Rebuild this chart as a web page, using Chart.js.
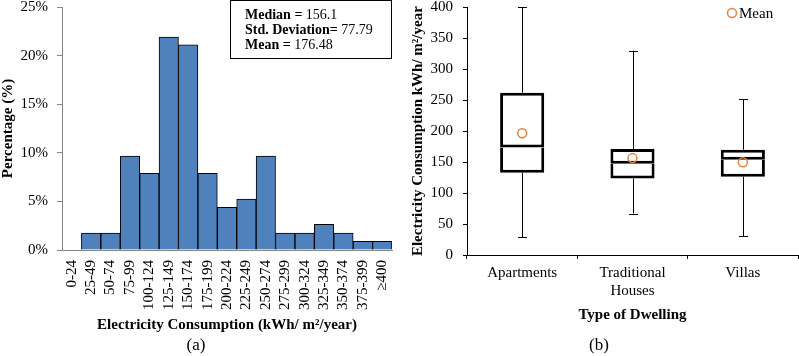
<!DOCTYPE html>
<html><head><meta charset="utf-8">
<script src="https://cdn.jsdelivr.net/npm/chart.js@4.4.0/dist/chart.umd.min.js"></script>
<style>
html,body{margin:0;padding:0;background:#fff;}
#wrap{position:relative;width:799px;height:356px;overflow:hidden;background:#fff;}
canvas{position:absolute;top:0;}
#ca{left:0;} #cb{left:400px;}
</style></head><body>
<div id="wrap"><canvas id="ca" width="400" height="356"></canvas><canvas id="cb" width="399" height="356"></canvas></div>
<script>
// ---- (a) histogram data ----
const histCategories = ['0-24','25-49','50-74','75-99','100-124','125-149','150-174','175-199','200-224','225-249','250-274','275-299','300-324','325-349','350-374','375-399','≥400'];
const histPercent = [0, 1.75, 1.75, 9.65, 7.9, 21.9, 21.1, 7.9, 4.4, 5.25, 9.65, 1.75, 1.75, 2.65, 1.75, 0.9, 0.9];
const statLabels = ['Median =', 'Std. Deviation=', 'Mean ='];
const statValues = ['156.1', '77.79', '176.48'];

// ---- (b) box plot data ----
const dwellingTypes = [['Apartments'], ['Traditional', 'Houses'], ['Villas']];
const whiskerLow  = [28.5, 67, 30];
const quartile1   = [133, 123.5, 126.5];
const medians     = [173.5, 147.5, 154];
const quartile3   = [262, 171, 170];
const whiskerHigh = [400, 330, 251.5];
const means       = [196.5, 156.5, 149.7];

Chart.defaults.font.family = "'Liberation Serif', 'Times New Roman', serif";
Chart.defaults.font.size = 15;
Chart.defaults.color = '#000';

const statsBoxPlugin = {
  id: 'statsBox',
  afterDraw(chart) {
    const ctx = chart.ctx, area = chart.chartArea;
    const x1 = Math.round(area.right) - 0.5, x0 = x1 - 161, y0 = 0.5, y1 = 58.5;
    ctx.save();
    ctx.fillStyle = '#fff'; ctx.fillRect(x0, y0, x1 - x0, y1 - y0);
    ctx.strokeStyle = '#000'; ctx.lineWidth = 1; ctx.strokeRect(x0, y0, x1 - x0, y1 - y0);
    ctx.textBaseline = 'middle'; ctx.textAlign = 'left'; ctx.fillStyle = '#000';
    statLabels.forEach((lab, i) => {
      const ty = 15.5 + i * 15;
      ctx.font = "bold 14px 'Liberation Serif', serif";
      ctx.fillText(lab, x0 + 14.5, ty);
      const w = ctx.measureText(lab + ' ').width;
      ctx.font = "14px 'Liberation Serif', serif";
      ctx.fillText(statValues[i], x0 + 14.5 + w, ty);
    });
    ctx.restore();
  }
};

new Chart(document.getElementById('ca'), {
  type: 'bar',
  data: { labels: histCategories, datasets: [{
    data: histPercent, backgroundColor: '#4F81BD', borderColor: '#000', borderWidth: 1,
    barPercentage: 1, categoryPercentage: 1
  }]},
  options: {
    responsive: false, animation: false, devicePixelRatio: 1,
    layout: { autoPadding: false, padding: { top: 0, right: 8, bottom: 0, left: 0 } },
    plugins: {
      legend: { display: false }, tooltip: { enabled: false },
      title: { display: true, text: '(a)', position: 'bottom', font: { size: 17, weight: 'normal', lineHeight: 1.2 }, padding: 0, color: '#000' }
    },
    scales: {
      x: {
        grid: { display: false, drawTicks: false, tickLength: 0 },
        border: { display: true, color: '#868686', width: 1 },
        ticks: { autoSkip: false, minRotation: 90, maxRotation: 90, padding: 10, font: { size: 15 }, color: '#000' },
        title: { display: true, text: 'Electricity Consumption (kWh/ m²/year)', font: { size: 15, weight: 'bold', lineHeight: 1.2 }, padding: { top: 0, bottom: 1.6 }, color: '#000' },
        afterFit(s) { s.height = 85.6; s.paddingLeft = 0; s.paddingRight = 0; }
      },
      y: {
        min: 0, max: 25,
        ticks: { stepSize: 5, callback: v => v + '%', padding: 9, font: { size: 15, lineHeight: 1 }, color: '#000' },
        grid: { drawOnChartArea: false, drawTicks: true, tickLength: 5, color: '#868686' },
        border: { color: '#868686', width: 1 },
        title: { display: true, text: 'Percentage (%)', font: { size: 15, weight: 'bold', lineHeight: 1 }, padding: { top: 0.5, bottom: 0 }, color: '#000' },
        afterFit(s) { s.width = 62; s.paddingTop = 7; s.paddingBottom = 0; }
      }
    }
  },
  plugins: [statsBoxPlugin]
});

const whiskerPlugin = {
  id: 'whiskers',
  beforeDatasetsDraw(chart) {
    const { ctx, scales: { x, y } } = chart;
    ctx.save(); ctx.strokeStyle = '#000'; ctx.lineWidth = 1;
    for (let i = 0; i < whiskerLow.length; i++) {
      const cx = Math.round(x.getPixelForValue(i)) + 0.5;
      const yl = y.getPixelForValue(whiskerLow[i]), yq1 = y.getPixelForValue(quartile1[i]);
      const yq3 = y.getPixelForValue(quartile3[i]), yh = y.getPixelForValue(whiskerHigh[i]);
      ctx.beginPath();
      ctx.moveTo(cx, yl); ctx.lineTo(cx, yq1);
      ctx.moveTo(cx, yq3); ctx.lineTo(cx, yh);
      ctx.moveTo(cx - 4.5, Math.round(yl) + 0.5); ctx.lineTo(cx + 4.5, Math.round(yl) + 0.5);
      ctx.moveTo(cx - 4.5, Math.round(yh) + 0.5); ctx.lineTo(cx + 4.5, Math.round(yh) + 0.5);
      ctx.stroke();
    }
    ctx.restore();
  }
};

const meanLegendPlugin = {
  id: 'meanLegend',
  afterDraw(chart) {
    const ctx = chart.ctx, area = chart.chartArea;
    const cx = area.right - 66, cy = 13;
    ctx.save();
    ctx.strokeStyle = '#E8803A'; ctx.lineWidth = 1.5;
    ctx.beginPath(); ctx.arc(cx, cy, 4.5, 0, Math.PI * 2); ctx.stroke();
    ctx.fillStyle = '#000'; ctx.font = "15px 'Liberation Serif', serif";
    ctx.textBaseline = 'middle'; ctx.textAlign = 'left';
    ctx.fillText('Mean', cx + 7, cy + 1);
    ctx.restore();
  }
};

new Chart(document.getElementById('cb'), {
  type: 'bar',
  data: {
    labels: dwellingTypes,
    datasets: [
      { type: 'bar', data: quartile1.map((q, i) => [q, medians[i]]), backgroundColor: '#fff', borderColor: '#000', borderWidth: 3, borderSkipped: 'top', barPercentage: 0.4, categoryPercentage: 1, grouped: false, order: 2 },
      { type: 'bar', data: medians.map((m, i) => [m, quartile3[i]]), backgroundColor: '#fff', borderColor: '#000', borderWidth: 3, borderSkipped: false, barPercentage: 0.4, categoryPercentage: 1, grouped: false, order: 1 },
      { type: 'line', data: means, showLine: false, pointRadius: 4.5, pointBorderWidth: 1.5, pointBorderColor: '#E8803A', pointBackgroundColor: 'rgba(0,0,0,0)', order: 0 }
    ]
  },
  options: {
    responsive: false, animation: false, devicePixelRatio: 1,
    layout: { autoPadding: false, padding: { top: 0, right: 1, bottom: 0, left: 0 } },
    plugins: {
      legend: { display: false }, tooltip: { enabled: false },
      title: { display: true, text: '(b)', position: 'bottom', font: { size: 17, weight: 'normal', lineHeight: 1.2 }, padding: 0, color: '#000' }
    },
    scales: {
      x: {
        offset: true,
        grid: { display: true, drawOnChartArea: false, drawTicks: true, tickLength: 4, color: '#000', offset: true },
        border: { display: true, color: '#000', width: 1 },
        ticks: { padding: 5, font: { size: 15, lineHeight: 1.2 }, color: '#000' },
        title: { display: true, text: 'Type of Dwelling', font: { size: 15, weight: 'bold', lineHeight: 1.2 }, padding: { top: 0, bottom: 11.6 }, color: '#000' },
        afterFit(s) { s.height = 80.6; s.paddingLeft = 0; s.paddingRight = 0; }
      },
      y: {
        min: 0, max: 400,
        ticks: { stepSize: 50, padding: 10, font: { size: 15, lineHeight: 1 }, color: '#000' },
        grid: { drawOnChartArea: false, drawTicks: true, tickLength: 4, color: '#000' },
        border: { color: '#000', width: 1 },
        title: { display: true, text: 'Electricity Consumption kWh/ m²/year', font: { size: 15, weight: 'bold', lineHeight: 1.2 }, padding: { top: 9, bottom: 0 }, color: '#000' },
        afterFit(s) { s.width = 67; s.paddingTop = 7.3; s.paddingBottom = 0; }
      }
    }
  },
  plugins: [whiskerPlugin, meanLegendPlugin]
});
</script>
</body></html>
